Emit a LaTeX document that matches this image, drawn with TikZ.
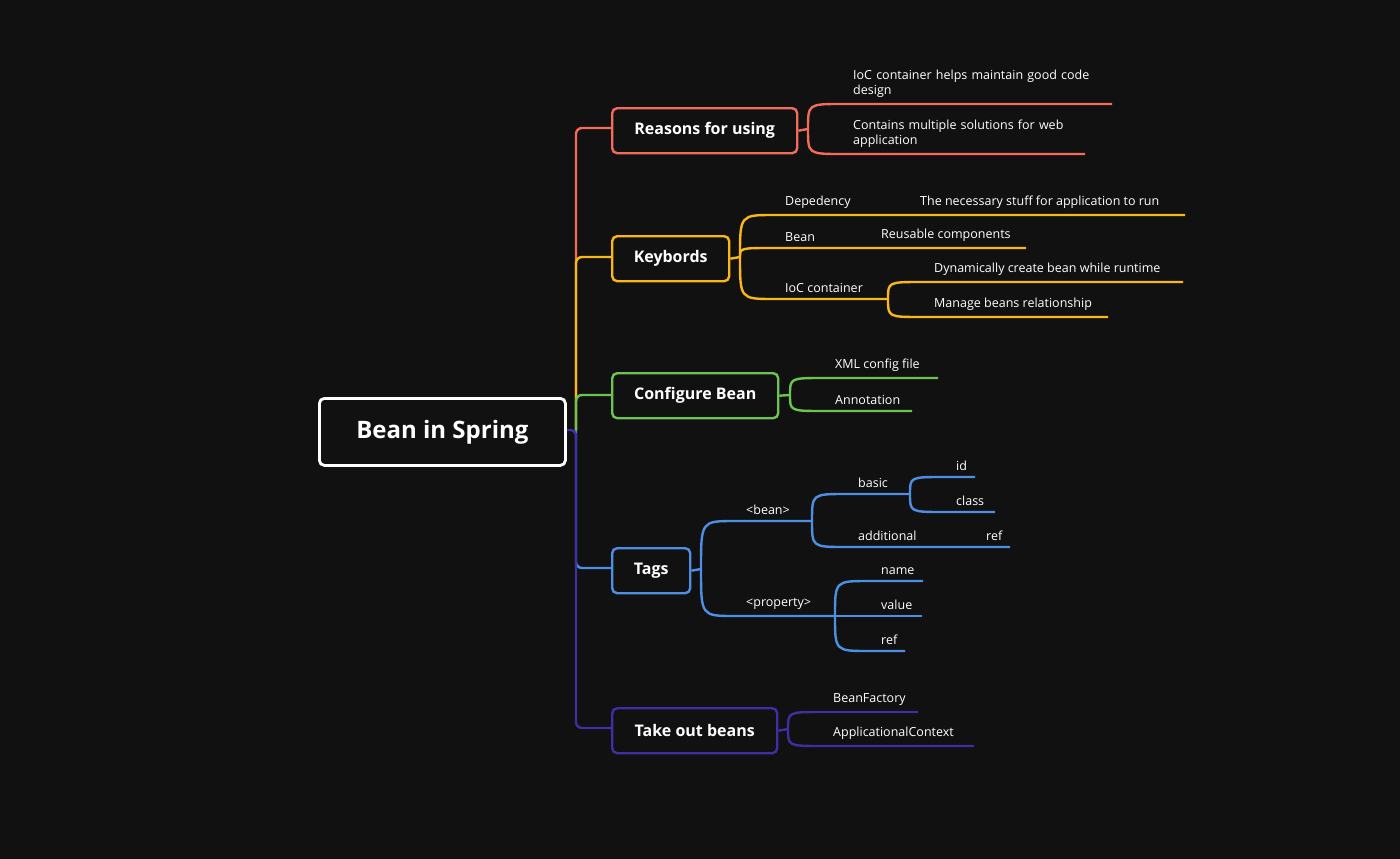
\documentclass[tikz,border=0pt]{standalone}
\usepackage{fontspec}
\setmainfont{Open Sans}
\definecolor{bg}{HTML}{111111}
\definecolor{cred}{HTML}{F26B5B}
\definecolor{corg}{HTML}{F8B815}
\definecolor{cgrn}{HTML}{6CC551}
\definecolor{cblu}{HTML}{4E8FE3}
\definecolor{cpur}{HTML}{3E2FA3}
\newcommand\brx[5]{\draw[#1] (#2,#3) .. controls (#2,#4) and (#2,#4) .. ({#2+34},#4) -- (#5,#4);}
\begin{document}
\begin{tikzpicture}[x=1pt,y=-1pt,line width=2.4pt,
  topic/.style={draw,rounded corners=5pt,fill=bg,text=white,font=\bfseries\fontsize{16}{18}\selectfont,inner sep=0pt,anchor=north west},
  lbl/.style={text=white,font=\fontsize{12.5}{15}\selectfont,anchor=south west,inner sep=0pt,align=left}]
\fill[bg] (0,0) rectangle (1400,859);
\useasboundingbox (0,0) rectangle (1400,859);
% spine
\draw[cred,rounded corners=6pt] (576,430) -- (576,128) -- (611,128);
\draw[corg,rounded corners=6pt] (576,430) -- (576,257) -- (611,257);
\draw[cgrn,rounded corners=6pt] (576,430) -- (576,395) -- (611,395);
\draw[cblu,rounded corners=6pt] (576,430) -- (576,568) -- (611,568);
\draw[cpur,rounded corners=6pt] (564,430) -- (576,430) -- (576,728) -- (611,728);
% root
\node[draw=white,line width=2.8pt,rounded corners=5pt,fill=bg,text=white,font=\bfseries\fontsize{24}{28}\selectfont,minimum width=246pt,minimum height=67pt,anchor=north west] (root) at (318,397) {Bean in Spring};
% topics
\node[topic,draw=cred,minimum width=185pt,minimum height=45pt] (reas) at (611,107) {Reasons for using};
\node[topic,draw=corg,minimum width=117pt,minimum height=45pt] (key) at (611,235) {Keybords};
\node[topic,draw=cgrn,minimum width=166pt,minimum height=45pt] (conf) at (611,372) {Configure Bean};
\node[topic,draw=cblu,minimum width=78pt,minimum height=45pt] (tags) at (611,547) {Tags};
\node[topic,draw=cpur,minimum width=165pt,minimum height=45pt] (take) at (611,707) {Take out beans};
% Reasons
\draw[cred] (reas.east) -- (808,129);
\brx{cred}{808}{129}{104}{1112}
\brx{cred}{808}{129}{154}{1085}
\node[lbl,text width=270pt] (r1) at (852,99) {IoC container helps maintain good code\\design};
\node[lbl,text width=270pt] (r2) at (852,149) {Contains multiple solutions for web\\application};
% Keybords
\draw[corg] (key.east) -- (740,257);
\brx{corg}{740}{257}{215}{1185}
\brx{corg}{740}{257}{248}{1026}
\brx{corg}{740}{257}{299}{888}
\brx{corg}{888}{299}{282}{1183}
\brx{corg}{888}{299}{317}{1108}
\node[lbl] (k1) at (784,210) {Depedency};
\node[lbl] (k1b) at (919,210) {The necessary stuff for application to run};
\node[lbl] (k2) at (784,243) {Bean};
\node[lbl] (k2b) at (880,243) {Reusable components};
\node[lbl] (k3) at (784,294) {IoC container};
\node[lbl] (k3a) at (933,277) {Dynamically create bean while runtime};
\node[lbl] (k3b) at (933,312) {Manage beans relationship};
% Configure
\draw[cgrn] (conf.east) -- (790,395);
\brx{cgrn}{790}{395}{378}{938}
\brx{cgrn}{790}{395}{411}{912}
\node[lbl] (c1) at (834,373) {XML config file};
\node[lbl] (c2) at (834,406) {Annotation};
% Tags
\draw[cblu] (tags.east) -- (701,569);
\brx{cblu}{701}{569}{521}{812}
\brx{cblu}{701}{569}{616}{835}
\brx{cblu}{812}{521}{494}{910}
\brx{cblu}{812}{521}{547}{1010}
\brx{cblu}{910}{494}{477}{975}
\brx{cblu}{910}{494}{512}{995}
\brx{cblu}{835}{616}{581}{923}
\draw[cblu] (835,616) -- (922,616);
\brx{cblu}{835}{616}{651}{905}
\node[lbl] (t1) at (745,516) {<bean>};
\node[lbl] (t2) at (745,611) {<property>};
\node[lbl] (t3) at (857,489) {basic};
\node[lbl] (t4) at (857,542) {additional};
\node[lbl] (t5) at (985,542) {ref};
\node[lbl] (t6) at (955,472) {id};
\node[lbl] (t7) at (955,507) {class};
\node[lbl] (t8) at (880,576) {name};
\node[lbl] (t9) at (880,611) {value};
\node[lbl] (t10) at (880,646) {ref};
% Take out
\draw[cpur] (take.east) -- (788,729);
\brx{cpur}{788}{729}{712}{918}
\brx{cpur}{788}{729}{746}{974}
\node[lbl] (o1) at (832,707) {BeanFactory};
\node[lbl] (o2) at (832,741) {ApplicationalContext};
\end{tikzpicture}
\end{document}
